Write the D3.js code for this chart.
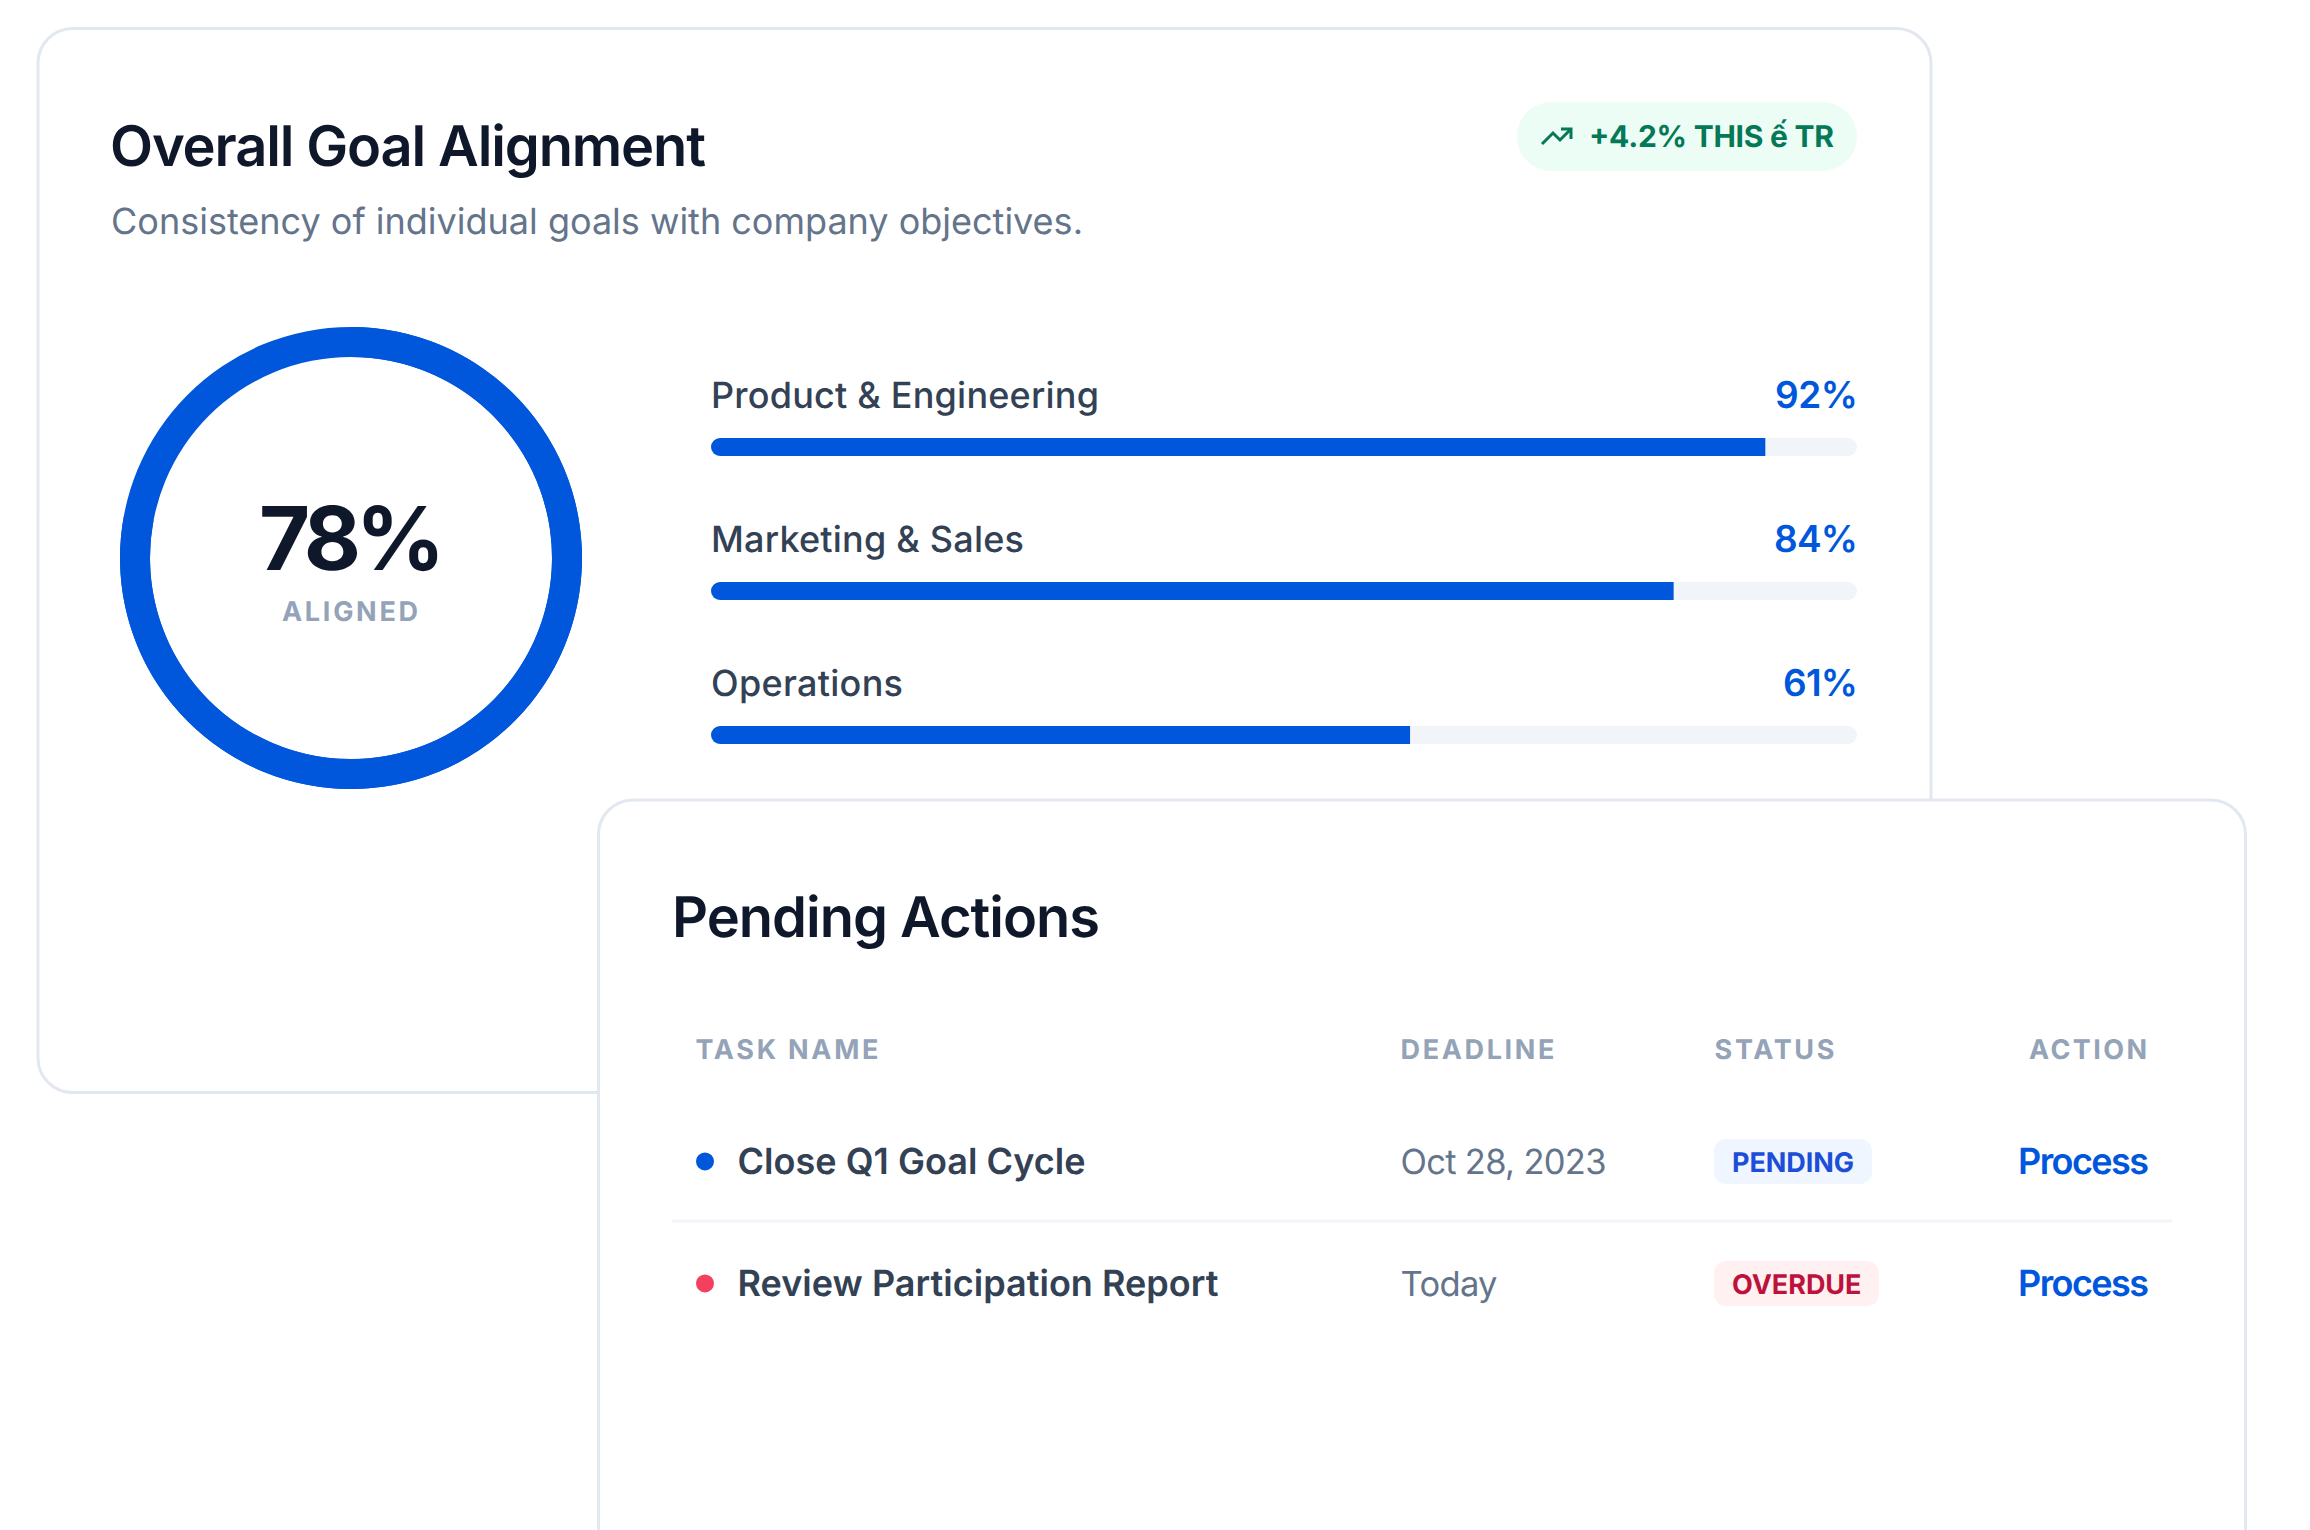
<!DOCTYPE html>
<html>
<head>
<meta charset="utf-8">
<script src="https://cdn.jsdelivr.net/npm/d3@7/dist/d3.min.js"></script>
<style>
html,body{margin:0;padding:0;background:#fff;overflow:hidden}
svg{display:block}
text{font-family:Inter,"Noto Sans",sans-serif;text-rendering:geometricPrecision}
</style>
</head>
<body>
<svg id="chart" width="2310" height="1530"></svg>
<script>
// ---- data ----
const overallValue = 78;
const overallLabel = "ALIGNED";
const departments = ["Product & Engineering", "Marketing & Sales", "Operations"];
const alignment = [92, 84, 61];
const tableHeaders = ["TASK NAME", "DEADLINE", "STATUS", "ACTION"];
const tasks = ["Close Q1 Goal Cycle", "Review Participation Report"];
const deadlines = ["Oct 28, 2023", "Today"];
const statuses = ["PENDING", "OVERDUE"];
const actions = ["Process", "Process"];
const titleText = "Overall Goal Alignment";
const subtitleText = "Consistency of individual goals with company objectives.";
const pillText = "+4.2% THIS ế TR";
const tableTitle = "Pending Actions";

// ---- palette ----
const BLUE = "#0057dc", INK = "#0f172a", SLATE = "#334155", MUTED = "#64748b",
      FAINT = "#94a3b8", BORDER = "#e2e8f0", TRACK = "#f1f5f9";
const statusStyle = {
  PENDING: {bg: "#eff6ff", fg: "#1d4ed8", dot: BLUE},
  OVERDUE: {bg: "#fff1f2", fg: "#be123c", dot: "#f43f5e"}
};

const svg = d3.select("#chart");

function label(g, str, x, y, size, weight, fill, width) {
  const t = g.append("text").attr("x", x).attr("y", y)
    .attr("font-size", size).attr("font-weight", weight).attr("fill", fill)
    .text(str);
  if (width) t.attr("textLength", width).attr("lengthAdjust", "spacing");
  return t;
}

function card(x, y, w, h) {
  svg.append("rect").attr("x", x).attr("y", y).attr("width", w).attr("height", h)
    .attr("rx", 34.5).attr("fill", "#fff").attr("stroke", BORDER).attr("stroke-width", 3);
}

// ---- top card ----
card(38, 28.5, 1893, 1064);
label(svg, titleText, 110, 166, 56, 600, INK, 596);
label(svg, subtitleText, 111, 234, 36, 400, MUTED, 972);

// pill
svg.append("rect").attr("x", 1517).attr("y", 102).attr("width", 340).attr("height", 69)
  .attr("rx", 34.5).attr("fill", "#ecfdf5");
svg.append("path").attr("d", d3.line()([[1542, 144], [1553, 133], [1560, 140], [1570, 130]]))
  .attr("fill", "none").attr("stroke", "#047857").attr("stroke-width", 3);
svg.append("path").attr("d", d3.line()([[1561, 129], [1571, 129], [1571, 139]]))
  .attr("fill", "none").attr("stroke", "#047857").attr("stroke-width", 3);
label(svg, pillText, 1589, 147, 30, 700, "#047857", 245);

// ring
const ringCx = 351, ringCy = 558, ringOuter = 231, ringInner = 201;
const angle = d3.scaleLinear().domain([0, 100]).range([0, 2 * Math.PI]);
const arc = d3.arc().innerRadius(ringInner).outerRadius(ringOuter);
const ring = svg.append("g").attr("transform", `translate(${ringCx},${ringCy})`);
ring.append("path").attr("d", arc({startAngle: 0, endAngle: angle(100)})).attr("fill", BLUE);
ring.append("path").attr("d", arc({startAngle: 0, endAngle: angle(overallValue)})).attr("fill", BLUE);
label(svg, overallValue + "%", 259, 570, 88, 700, INK, 186);
label(svg, overallLabel, 282, 620.5, 27, 700, FAINT, 136);

// bars
const xBar = d3.scaleLinear().domain([0, 100]).range([711, 1857]);
const yBar = d3.scalePoint().domain(departments).range([438, 726]);
const barH = 18;
const labelWidths = [388, 313, 192];
const valueStarts = [1775, 1774, 1783];
const defs = svg.append("defs");
departments.forEach((d, i) => {
  const y = yBar(d);
  defs.append("clipPath").attr("id", "bar" + i).append("rect")
    .attr("x", xBar(0)).attr("y", y).attr("width", xBar(100) - xBar(0)).attr("height", barH).attr("rx", 9);
  svg.append("rect").attr("x", xBar(0)).attr("y", y).attr("width", xBar(100) - xBar(0))
    .attr("height", barH).attr("rx", 9).attr("fill", TRACK);
  svg.append("rect").attr("x", xBar(0)).attr("y", y).attr("width", xBar(alignment[i]) - xBar(0))
    .attr("height", barH).attr("fill", BLUE).attr("clip-path", `url(#bar${i})`);
  label(svg, d, 711, y - 30.5, 36, 500, SLATE, labelWidths[i]);
  label(svg, alignment[i] + "%", valueStarts[i], y - 30.5, 37, 600, BLUE, 1858 - valueStarts[i]);
});

// ---- bottom card ----
card(598.5, 800, 1647, 900);
label(svg, tableTitle, 672, 937, 56, 600, INK, 428);

const headerX = [695.5, 1400.5, 1714.5, 2029];
const headerW = [183, 154, 120, 118];
tableHeaders.forEach((h, i) => label(svg, h, headerX[i], 1059, 27, 700, FAINT, headerW[i]));

const yRow = d3.scalePoint().domain(tasks).range([1174, 1296]);
const taskW = [348, 481];
const deadW = [206, 97];
const badgeW = [158, 165];
const badgeTextW = [122, 129.5];
tasks.forEach((t, i) => {
  const y = yRow(t), st = statusStyle[statuses[i]];
  svg.append("circle").attr("cx", 705).attr("cy", y - 12.6).attr("r", 9).attr("fill", st.dot);
  label(svg, t, 737.5, y, 36, 600, SLATE, taskW[i]);
  label(svg, deadlines[i], 1400.5, y, 34.5, 400, MUTED, deadW[i]);
  svg.append("rect").attr("x", 1714).attr("y", y - 35).attr("width", badgeW[i]).attr("height", 45)
    .attr("rx", 12).attr("fill", st.bg);
  label(svg, statuses[i], 1732, y - 2, 27, 700, st.fg, badgeTextW[i]);
  label(svg, actions[i], 2018, y, 36, 600, BLUE, 131);
});
svg.append("line").attr("x1", 672).attr("x2", 2172).attr("y1", 1221).attr("y2", 1221)
  .attr("stroke", TRACK).attr("stroke-width", 3);
</script>
</body>
</html>
